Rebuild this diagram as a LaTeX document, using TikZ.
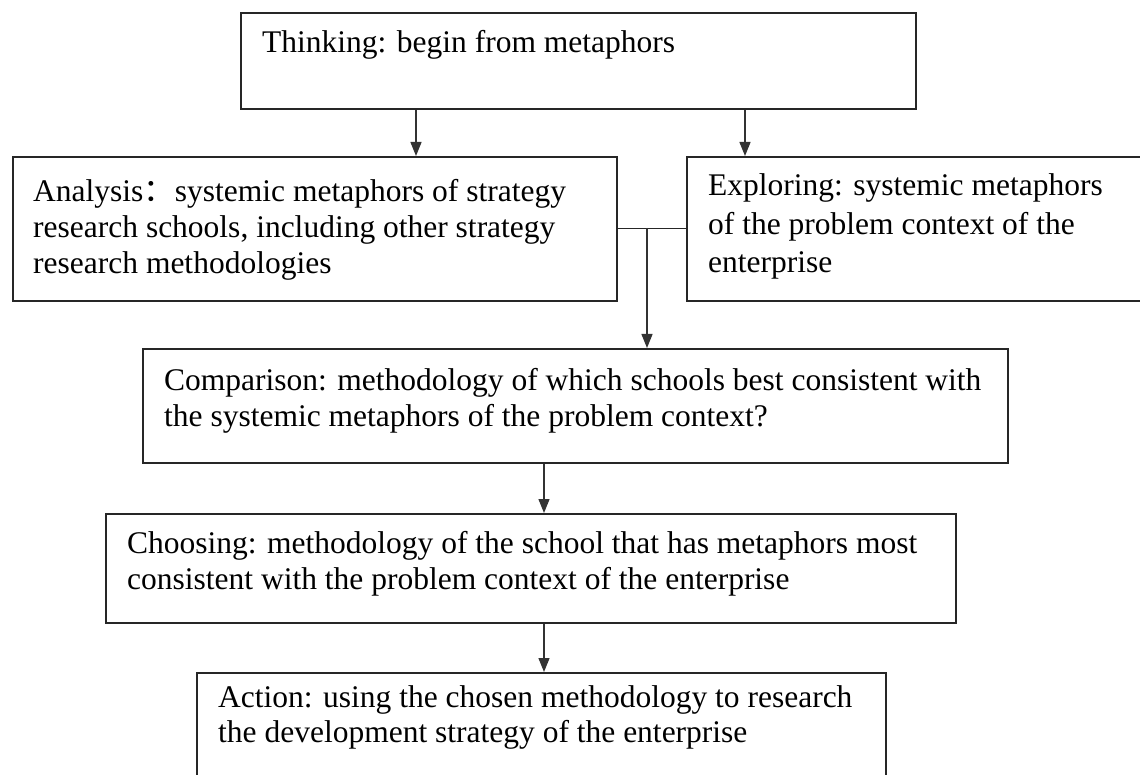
\documentclass[tikz,border=0pt]{standalone}
\usepackage{fontspec}
\setmainfont{Liberation Serif}
\newfontfamily\cjkfont{Noto Sans CJK SC}
\usetikzlibrary{arrows.meta}
\tikzset{
  boxnode/.style={draw=black!85, line width=1.6pt, rectangle, inner sep=0pt, anchor=north west},
  txt/.style={inner sep=0pt, anchor=base west, font=\fontsize{31.5}{35}\selectfont},
  arr/.style={draw=black!80, line width=1.3pt, -{Triangle[width=11pt,length=14pt]}},
  conn/.style={draw=black!85, line width=1.3pt}
}
\begin{document}
\begin{tikzpicture}[x=1pt,y=-1pt]
\useasboundingbox (0,0) rectangle (1140,775);
\clip (0,0) rectangle (1140,775);
\fill[white] (0,0) rectangle (1140,775);
% boxes
\node[boxnode, minimum width=675pt, minimum height=96pt] (think) at (240,12) {};
\node[boxnode, minimum width=604pt, minimum height=144pt] (ana) at (12,156) {};
\node[boxnode, minimum width=470pt, minimum height=144pt] (expl) at (686,156) {};
\node[boxnode, minimum width=865pt, minimum height=114pt] (comp) at (142,348) {};
\node[boxnode, minimum width=850pt, minimum height=109pt] (choose) at (105,513) {};
\node[boxnode, minimum width=689pt, minimum height=140pt] (act) at (196,672) {};
% texts
\node[txt] (tthink) at (262,53) {Thinking: begin from metaphors};
\node[txt] (tana) at (33,202) {\vtop{\baselineskip=36pt
  \hbox{Analysis{\cjkfont ：}systemic metaphors of strategy}
  \hbox{research schools, including other strategy}
  \hbox{research methodologies}}};
\node[txt] (texpl) at (708,196) {\vtop{\baselineskip=38.5pt
  \hbox{Exploring: systemic metaphors}
  \hbox{of the problem context of the}
  \hbox{enterprise}}};
\node[txt] (tcomp) at (164,390) {\vtop{\baselineskip=36pt
  \hbox{Comparison: methodology of which schools best consistent with}
  \hbox{the systemic metaphors of the problem context?}}};
\node[txt] (tchoose) at (127,553) {\vtop{\baselineskip=36pt
  \hbox{Choosing: methodology of the school that has metaphors most}
  \hbox{consistent with the problem context of the enterprise}}};
\node[txt] (tact) at (218,707) {\vtop{\baselineskip=35pt
  \hbox{Action: using the chosen methodology to research}
  \hbox{the development strategy of the enterprise}}};
% connectors
\coordinate (xa) at (416,0);
\coordinate (xb) at (745,0);
\coordinate (j) at (647,228);
\coordinate (xc) at (544,0);
\draw[arr] (think.south -| xa) -- (ana.north -| xa);
\draw[arr] (think.south -| xb) -- (expl.north -| xb);
\draw[conn] (ana.east) -- (expl.west);
\draw[arr] (j) -- (comp.north -| j);
\draw[arr] (comp.south -| xc) -- (choose.north -| xc);
\draw[arr] (choose.south -| xc) -- (act.north -| xc);
\end{tikzpicture}
\end{document}
